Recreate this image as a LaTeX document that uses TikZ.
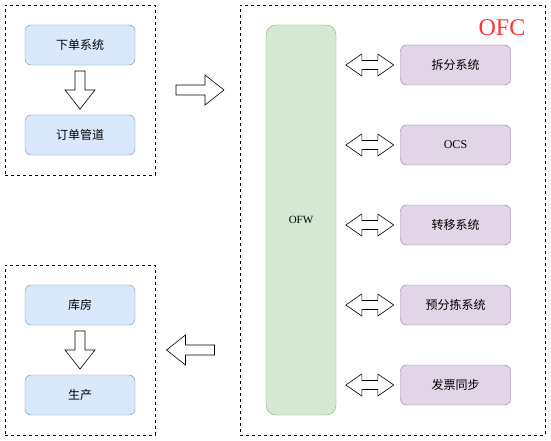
\documentclass[tikz,border=0pt]{standalone}
\usepackage{fontspec}
\setmainfont{Liberation Serif}
\newfontfamily\cjk{Noto Sans CJK SC}
\usepackage{tikz}
\usetikzlibrary{calc}

\definecolor{blueline}{HTML}{6C8EBF}
\definecolor{bluefill}{HTML}{DAE8FC}
\definecolor{greenline}{HTML}{82B366}
\definecolor{greenfill}{HTML}{D5E8D4}
\definecolor{purpleline}{HTML}{9673A6}
\definecolor{purplefill}{HTML}{E1D5E7}
\definecolor{ofcred}{HTML}{FF3333}

\begin{document}
\begin{tikzpicture}[
    x = 1pt, y = -1pt,
    font = \fontsize{12}{14}\selectfont,
    group/.style = {draw,
      dash pattern = on 3pt off 3pt,
      minimum width = 150pt, minimum height = 170pt},
    sysbox/.style = {draw = blueline, fill = bluefill,
      rounded corners = 6pt,
      minimum width = 110pt, minimum height = 40pt},
    subbox/.style = {sysbox, draw = purpleline, fill = purplefill},
    hollow/.style = {draw, fill = white, line width = 0.6pt},
    downarrow/.pic = {\path [hollow] (-5, -19) -- (5, -19) -- (5, 0) -- (15, 0)
      -- (0, 19) -- (-15, 0) -- (-5, 0) -- cycle;},
    rightarrow/.pic = {\path [hollow] (-24, -5) -- (5, -5) -- (5, -15) -- (24, 0)
      -- (5, 15) -- (5, 5) -- (-24, 5) -- cycle;},
    botharrow/.pic = {\path [hollow] (-24, 0) -- (-8, -11) -- (-8, -4.5)
      -- (8, -4.5) -- (8, -11) -- (24, 0) -- (8, 11) -- (8, 4.5)
      -- (-8, 4.5) -- (-8, 11) -- cycle;}
    ]

    \useasboundingbox (0, 0) rectangle (551, 441);

    % groups
    \node at (80, 90) [group, name = upstream] {};
    \node at (80, 350) [group, name = downstream] {};
    \node at (392.5, 220) [group, minimum width = 305pt, minimum height = 430pt,
      name = ofc] {};
    \node at (502, 28) [text = ofcred, font = \fontsize{24}{26}\selectfont,
      name = ofctitle] {OFC};

    % left side
    \node at (80, 45) [sysbox, name = order] {\cjk 下单系统};
    \node at (80, 135) [sysbox, name = pipe] {\cjk 订单管道};
    \node at (80, 305) [sysbox, name = store] {\cjk 库房};
    \node at (80, 395) [sysbox, name = prod] {\cjk 生产};

    \pic at ($(order.south)!0.5!(pipe.north)$) {downarrow};
    \pic at ($(store.south)!0.5!(prod.north)$) {downarrow};

    % OFW column
    \node at (301, 220) [draw = greenline, fill = greenfill, rounded corners = 10pt,
      minimum width = 70pt, minimum height = 390pt,
      font = \fontsize{11}{13}\selectfont, name = OFW] {OFW};

    \node at (455.5, 65) [subbox, name = split] {\cjk 拆分系统};
    \node at (455.5, 145) [subbox, name = OCS] {OCS};
    \node at (455.5, 225) [subbox, name = transfer] {\cjk 转移系统};
    \node at (455.5, 305) [subbox, name = presort] {\cjk 预分拣系统};
    \node at (455.5, 385) [subbox, name = invoice] {\cjk 发票同步};

    \foreach \b in {split, OCS, transfer, presort, invoice}
      \pic at ($(\b.west) + (-30.5, 0)$) {botharrow};

    % flow in and out
    \pic at (200, 90) {rightarrow};
    \pic [xscale = -1] at (190.5, 350) {rightarrow};

  \end{tikzpicture}
\end{document}
